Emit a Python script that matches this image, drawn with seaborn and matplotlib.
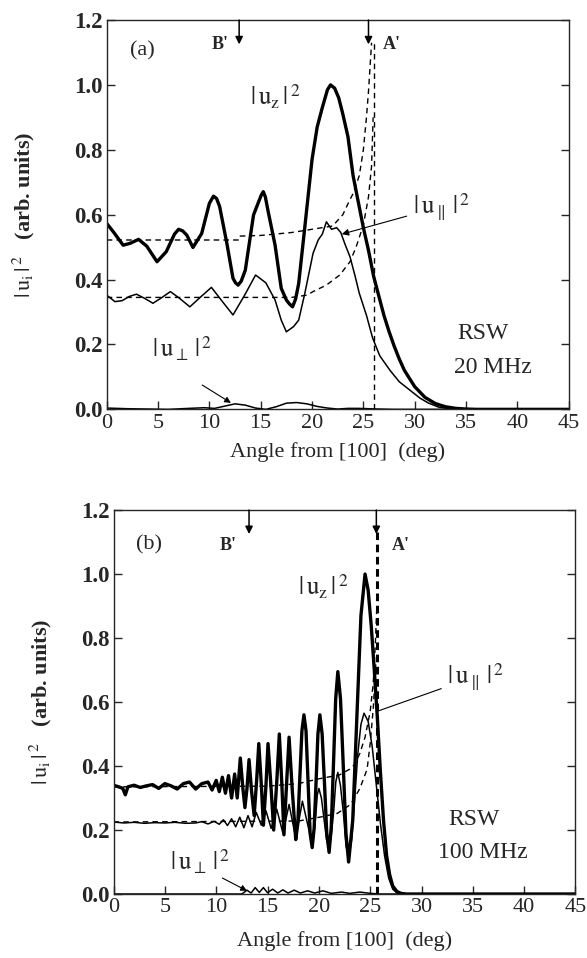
import matplotlib
matplotlib.use("Agg")
import matplotlib.pyplot as plt
import seaborn as sns

# ---------------- panel (a): 20 MHz ----------------
a_uz_x = [0, 0.65, 1.6, 2.3, 3.1, 3.9, 4.9, 5.8, 6.6, 7.0, 7.4, 7.8, 8.4, 9.25, 10.0, 10.4,
          10.7, 11.0, 11.7, 12.3, 12.55, 12.8, 13.1, 13.5, 14.3, 14.8, 15.05, 15.25, 15.45,
          15.7, 16.4, 17.0, 17.5, 17.8, 18.1, 18.4, 18.7, 19.3, 20.0, 20.5, 21.0, 21.5, 21.8,
          22.2, 22.6, 23.0, 23.5, 24.0, 24.5, 25.0, 25.5, 26.0, 26.5, 27.0, 27.5, 28.0, 28.5,
          29.0, 29.5, 30.0, 31.0, 32.0, 33.0, 34.0, 35.0, 36.0, 45.0]
a_uz_y = [0.573, 0.547, 0.506, 0.512, 0.524, 0.503, 0.455, 0.486, 0.54, 0.555, 0.55, 0.537,
          0.499, 0.542, 0.635, 0.657, 0.65, 0.625, 0.512, 0.404, 0.39, 0.383, 0.395, 0.429,
          0.599, 0.64, 0.66, 0.671, 0.655, 0.614, 0.506, 0.373, 0.337, 0.325, 0.316, 0.34,
          0.388, 0.563, 0.77, 0.87, 0.93, 0.985, 1.0, 0.99, 0.96, 0.91, 0.84, 0.72, 0.64,
          0.56, 0.49, 0.41, 0.35, 0.29, 0.24, 0.195, 0.155, 0.12, 0.095, 0.07, 0.037, 0.018,
          0.008, 0.003, 0.001, 0.0, 0.0]

a_upar_x = [0, 0.8, 1.5, 2.2, 2.9, 3.7, 4.5, 5.3, 6.2, 7.1, 8.1, 9.1, 10.2, 11.2, 12.3, 13.4,
            14.5, 15.5, 16.4, 17.0, 17.5, 18.2, 18.7, 19.3, 20.1, 20.6, 21.0, 21.4, 21.9, 22.4,
            22.8, 23.2, 23.7, 24.2, 24.6, 25.3, 25.9, 26.6, 27.6, 28.5, 29.5, 30.5, 31.3,
            32.4, 34.0, 45.0]
a_upar_y = [0.352, 0.332, 0.335, 0.348, 0.355, 0.342, 0.327, 0.343, 0.363, 0.342, 0.316, 0.345,
            0.376, 0.335, 0.291, 0.35, 0.414, 0.39, 0.337, 0.275, 0.239, 0.255, 0.275, 0.358,
            0.481, 0.522, 0.54, 0.578, 0.555, 0.56, 0.545, 0.51, 0.47, 0.41, 0.358, 0.29,
            0.22, 0.165, 0.12, 0.085, 0.06, 0.035, 0.02, 0.006, 0.0, 0.0]

a_uperp_x = [0, 2, 4, 6, 8, 9.5, 10.5, 11.5, 12.5, 13.5, 14.5, 15.5, 16.5, 17.5, 18.5, 19.5,
             20.5, 21.5, 22.5, 23.5, 24.5, 25.5, 26.5, 28, 45]
a_uperp_y = [0.004, 0.002, 0.001, 0.0, 0.003, 0.005, 0.003, 0.01, 0.017, 0.013, 0.004, 0.0,
             0.008, 0.019, 0.021, 0.017, 0.009, 0.004, 0.001, 0.003, 0.003, 0.002, 0.001, 0.0, 0.0]

a_dash_hi_x = [0, 12.9, 13.0, 15, 18, 20, 22, 23, 23.7, 24.0, 24.6, 25.0, 25.3, 25.5, 25.7, 25.8]
a_dash_hi_y = [0.522, 0.522, 0.534, 0.536, 0.545, 0.555, 0.565, 0.60, 0.647, 0.665, 0.72,
               0.80, 0.90, 0.98, 1.08, 1.13]
a_dash_lo_x = [0, 18.0, 19.5, 20.1, 21.4, 22.7, 23.7, 24.3, 25.0, 25.5, 25.8, 25.95]
a_dash_lo_y = [0.345, 0.345, 0.352, 0.363, 0.383, 0.414, 0.455, 0.501, 0.568, 0.655, 0.75, 0.90]

# ---------------- panel (b): 100 MHz ----------------
b_uz_x = [0, 0.5, 0.9, 1.15, 1.4, 2.0, 2.6, 3.2, 3.8, 4.4, 5.0, 5.6, 6.2, 6.8, 7.4, 8.0, 8.6,
          9.2, 9.6, 10.0, 10.3, 10.6, 10.9, 11.2, 11.5, 11.8, 12.05, 12.35, 12.6, 12.8, 13.0,
          13.2, 13.45, 13.7, 13.95, 14.15, 14.4, 14.6, 14.85, 15.05, 15.35, 15.6, 15.9, 16.15,
          16.4, 16.6, 16.85, 17.1, 17.4, 17.75, 17.95, 18.15, 18.35, 18.55, 18.75, 18.95,
          19.15, 19.35, 19.54, 19.73, 19.91, 20.1, 20.32, 20.55, 20.77, 21.0, 21.21, 21.43,
          21.64, 21.85, 22.11, 22.38, 22.64, 22.9, 23.3, 23.7, 24.1, 24.5, 24.8, 25.1, 25.4,
          25.7, 26.0, 26.3, 26.6, 26.9, 27.2, 27.6, 28.0, 28.5, 45.0]
b_uz_y = [0.340, 0.335, 0.330, 0.310, 0.335, 0.340, 0.333, 0.338, 0.342, 0.330, 0.345, 0.338,
          0.328, 0.345, 0.350, 0.328, 0.345, 0.350, 0.325, 0.355, 0.320, 0.365, 0.315, 0.370,
          0.300, 0.375, 0.300, 0.425, 0.33, 0.27, 0.33, 0.42, 0.32, 0.245, 0.36, 0.47, 0.34,
          0.215, 0.34, 0.47, 0.33, 0.20, 0.35, 0.50, 0.34, 0.185, 0.34, 0.49, 0.33, 0.17, 0.22,
          0.365, 0.51, 0.56, 0.51, 0.35, 0.19, 0.145, 0.205, 0.35, 0.50, 0.56, 0.50, 0.345,
          0.19, 0.13, 0.21, 0.41, 0.61, 0.695, 0.61, 0.40, 0.19, 0.10, 0.23, 0.55, 0.87, 1.0,
          0.95, 0.84, 0.70, 0.55, 0.38, 0.23, 0.12, 0.06, 0.025, 0.008, 0.002, 0.0, 0.0]

b_upar_x = [0, 1, 2, 3, 4, 5, 6, 7, 8, 8.6, 9.2, 9.8, 10.3, 10.7, 11.1, 11.5, 11.9, 12.3, 12.7,
            13.1, 13.5, 13.9, 14.4, 14.85, 15.35, 15.9, 16.5, 17.1, 17.75, 18.4, 19.35, 19.5,
            19.7, 19.85, 20.0, 20.25, 20.5, 20.75, 21.0, 21.2, 21.45, 21.65, 21.85, 22.1, 22.4,
            22.65, 22.9, 23.2, 23.5, 23.8, 24.1, 24.4, 24.8, 25.2, 25.6, 26.0, 26.4, 26.8,
            27.2, 27.6, 28.2, 45.0]
b_upar_y = [0.225, 0.222, 0.224, 0.221, 0.223, 0.222, 0.224, 0.221, 0.222, 0.226, 0.219, 0.227,
            0.218, 0.232, 0.214, 0.235, 0.21, 0.24, 0.207, 0.245, 0.21, 0.255, 0.215, 0.26,
            0.205, 0.265, 0.19, 0.28, 0.175, 0.29, 0.155, 0.18, 0.245, 0.31, 0.33, 0.30, 0.235,
            0.17, 0.14, 0.18, 0.26, 0.35, 0.38, 0.34, 0.25, 0.15, 0.115, 0.17, 0.30, 0.44, 0.53,
            0.565, 0.54, 0.46, 0.34, 0.22, 0.12, 0.05, 0.015, 0.004, 0.0, 0.0]

b_uperp_x = [0, 12.5, 13.0, 13.4, 13.8, 14.2, 14.6, 15.0, 15.5, 16.0, 16.5, 17.0, 17.6, 18.2,
             18.9, 19.6, 20.4, 21.2, 22.2, 23.0, 24.0, 25.0, 26.0, 45]
b_uperp_y = [0.0, 0.0, 0.012, 0.003, 0.02, 0.005, 0.02, 0.004, 0.015, 0.003, 0.013, 0.003, 0.012,
             0.003, 0.01, 0.003, 0.01, 0.002, 0.006, 0.002, 0.006, 0.002, 0.0, 0.0]

b_dash_hi_x = [0, 15, 18, 20, 22, 23, 23.5, 24, 24.5, 25.0, 25.3, 25.5, 25.65]
b_dash_hi_y = [0.335, 0.337, 0.345, 0.36, 0.372, 0.39, 0.405, 0.44, 0.49, 0.57, 0.66, 0.78, 0.90]
b_dash_lo_x = [0, 18, 20.4, 21.8, 23.1, 24.0, 24.7, 25.0, 25.3, 25.55]
b_dash_lo_y = [0.225, 0.228, 0.242, 0.252, 0.28, 0.33, 0.39, 0.47, 0.58, 0.72]

# marker angles B' and A', asymptote angle
a_marks = [12.9, 25.5]
b_marks = [13.2, 25.6]
a_asym = 26.0
b_asym = 25.7

sns.set_style("ticks")
plt.rcParams['font.family'] = ['Liberation Serif', 'DejaVu Serif']
plt.rcParams['mathtext.fontset'] = 'stix'

fig = plt.figure(figsize=(5.87, 9.58), dpi=100)
ax1 = fig.add_axes([0.1818, 0.5727, 0.787, 0.4064])
ax2 = fig.add_axes([0.1934, 0.0668, 0.787, 0.4008])

lab_z = r"$|\,\mathrm{u_z}\,|^{\,2}$"
lab_par = r"$|\,\mathrm{u}_{\parallel}\,|^{\,2}$"
lab_perp = r"$|\,\mathrm{u}_{\perp}\,|^{\,2}$"


def draw(ax, uz, upar, uperp, dhi, dlo, marks, asym, thick_vline):
    sns.lineplot(x=uz[0], y=uz[1], ax=ax, color='black', lw=2.4)
    sns.lineplot(x=upar[0], y=upar[1], ax=ax, color='black', lw=1.1)
    sns.lineplot(x=uperp[0], y=uperp[1], ax=ax, color='black', lw=1.1)
    for d in (dhi, dlo):
        sns.lineplot(x=d[0], y=d[1], ax=ax, color='black', lw=1.0, linestyle=(0, (4, 3)))
    if thick_vline:
        ax.plot([asym, asym], [0, 1.13], color='black', lw=2.2, linestyle=(0, (2.5, 1.5)))
    else:
        ax.plot([asym, asym], [0, 1.13], color='black', lw=1.0, linestyle=(0, (4, 3)))
    for m in marks:
        ax.annotate("", xy=(m, 1.125), xytext=(m, 1.2),
                    arrowprops=dict(arrowstyle='-|>', color='black', lw=1.1,
                                    mutation_scale=11, shrinkA=0, shrinkB=0))
    ax.set_xlim(0, 45)
    ax.set_ylim(0, 1.2)
    ax.set_xticks(range(0, 46, 5))
    ax.set_xticklabels([str(v) for v in range(0, 46, 5)], fontsize=16)
    ax.set_yticks([0, 0.2, 0.4, 0.6, 0.8, 1.0, 1.2])
    ax.set_yticklabels(["0.0", "0.2", "0.4", "0.6", "0.8", "1.0", "1.2"],
                       fontweight='bold', fontsize=16.5)
    ax.tick_params(direction='in', right=True, top=False, length=6, width=1, pad=3)
    for s in ax.spines.values():
        s.set_visible(True)
        s.set_linewidth(1.0)
    ax.set_xlabel("Angle from [100]  (deg)", fontsize=16)
    ax.set_ylabel(r"$|\,\mathrm{u_i}\,|^{\,2}$   (arb. units)", fontsize=16, fontweight='bold')


draw(ax1, (a_uz_x, a_uz_y), (a_upar_x, a_upar_y), (a_uperp_x, a_uperp_y),
     (a_dash_hi_x, a_dash_hi_y), (a_dash_lo_x, a_dash_lo_y), a_marks, a_asym, False)
draw(ax2, (b_uz_x, b_uz_y), (b_upar_x, b_upar_y), (b_uperp_x, b_uperp_y),
     (b_dash_hi_x, b_dash_hi_y), (b_dash_lo_x, b_dash_lo_y), b_marks, b_asym, True)

ax1.yaxis.set_label_coords(-0.15, 0.5)
ax2.yaxis.set_label_coords(-0.128, 0.5)
ax1.xaxis.set_label_coords(0.5, -0.085)
ax2.xaxis.set_label_coords(0.5, -0.097)

# panel (a) annotations
ax1.text(3.5, 1.105, "(a)", fontsize=16, ha='center', va='center')
ax1.text(11.0, 1.125, "B'", fontsize=13, fontweight='bold', ha='center', va='center')
ax1.text(27.8, 1.125, "A'", fontsize=13, fontweight='bold', ha='center', va='center')
ax1.text(14.0, 0.965, lab_z, fontsize=18, ha='left', va='center')
ax1.annotate(lab_par, xy=(22.9, 0.54), xytext=(29.8, 0.625), fontsize=18, ha='left', va='center',
             arrowprops=dict(arrowstyle='-|>', color='black', lw=0.8, mutation_scale=10,
                             shrinkA=2, shrinkB=0))
ax1.text(4.4, 0.185, lab_perp, fontsize=18, ha='left', va='center')
ax1.annotate("", xy=(12.1, 0.02), xytext=(9.3, 0.075),
             arrowprops=dict(arrowstyle='-|>', color='black', lw=0.8, mutation_scale=9,
                             shrinkA=0, shrinkB=0))
ax1.text(36.7, 0.235, "RSW", fontsize=17, ha='center', va='center')
ax1.text(37.6, 0.13, "20 MHz", fontsize=17, ha='center', va='center')

# panel (b) annotations
ax2.text(3.5, 1.09, "(b)", fontsize=16, ha='center', va='center')
ax2.text(11.2, 1.09, "B'", fontsize=13, fontweight='bold', ha='center', va='center')
ax2.text(28.0, 1.09, "A'", fontsize=13, fontweight='bold', ha='center', va='center')
ax2.text(18.0, 0.96, lab_z, fontsize=18, ha='left', va='center')
ax2.annotate(lab_par, xy=(25.6, 0.57), xytext=(32.5, 0.68), fontsize=18, ha='left', va='center',
             arrowprops=dict(arrowstyle='-', color='black', lw=0.8, shrinkA=2, shrinkB=0))
ax2.text(5.5, 0.10, lab_perp, fontsize=18, ha='left', va='center')
ax2.annotate("", xy=(13.0, 0.01), xytext=(10.6, 0.05),
             arrowprops=dict(arrowstyle='-|>', color='black', lw=0.8, mutation_scale=9,
                             shrinkA=0, shrinkB=0))
ax2.text(35.1, 0.234, "RSW", fontsize=17, ha='center', va='center')
ax2.text(36.0, 0.13, "100 MHz", fontsize=17, ha='center', va='center')

fig.savefig("out.png", dpi=100)
